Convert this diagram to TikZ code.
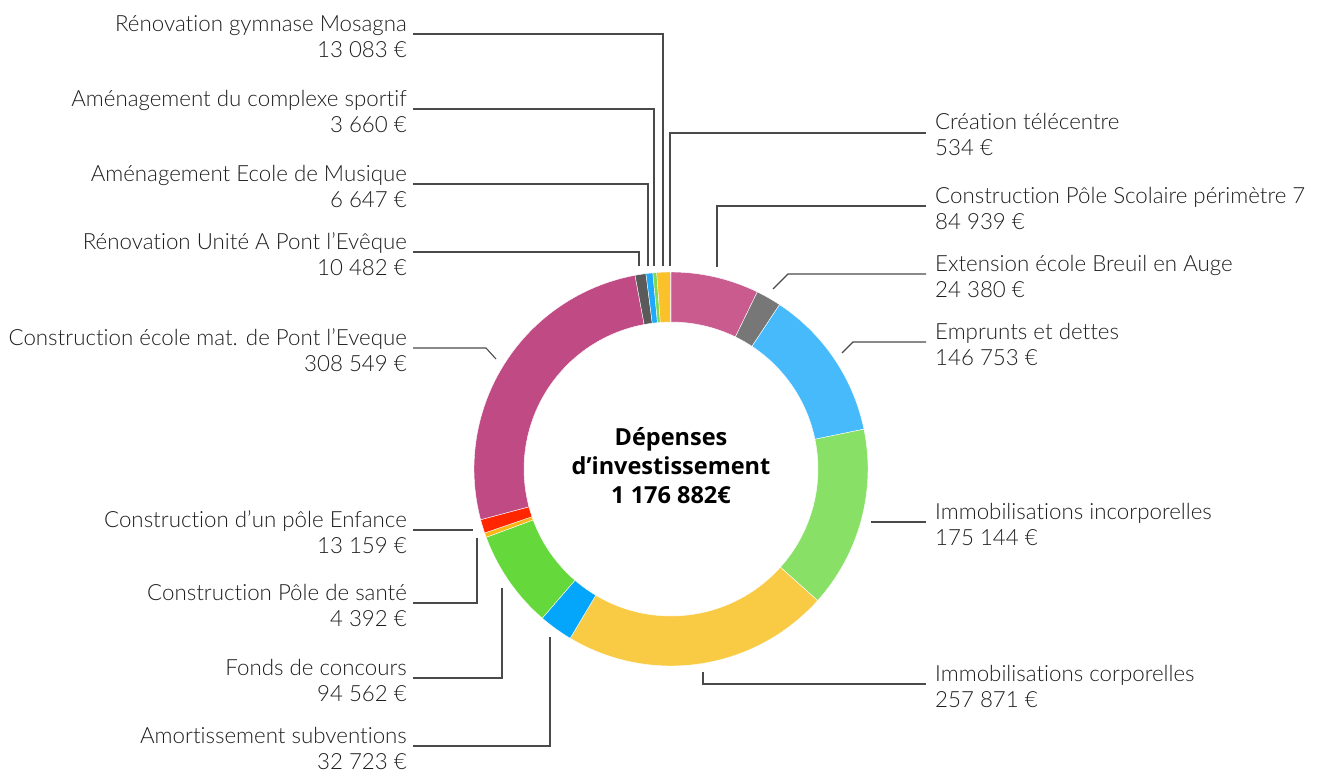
\documentclass[tikz,border=0pt]{standalone}
\usepackage{fontspec}
\setmainfont{Lato Light}[Ligatures=NoCommon]
\newfontfamily\centerfont{Open Sans Bold}
\definecolor{cScol}{HTML}{C95B8F}
\definecolor{cExt}{HTML}{777777}
\definecolor{cEmpr}{HTML}{47BAFC}
\definecolor{cIncorp}{HTML}{88E066}
\definecolor{cCorp}{HTML}{F9CB45}
\definecolor{cAmort}{HTML}{03A6FB}
\definecolor{cFonds}{HTML}{65D93C}
\definecolor{cSante}{HTML}{F9B717}
\definecolor{cEnfance}{HTML}{FF2600}
\definecolor{cEcole}{HTML}{C04A84}
\definecolor{cUnite}{HTML}{5A5A5A}
\definecolor{cMusique}{HTML}{1EA9FB}
\definecolor{cSportif}{HTML}{7CD956}
\definecolor{cMosagna}{HTML}{FBC12B}
\definecolor{cTele}{HTML}{E57AA8}
\definecolor{cLine}{HTML}{4A4A4A}
\definecolor{cText}{HTML}{1E1E1E}
\tikzset{
  lbl/.style={inner sep=0pt, text=cText, font=\fontsize{22.3}{26}\selectfont},
  lbll/.style={lbl, anchor=base east},
  lblr/.style={lbl, anchor=base west},
  ctr/.style={inner sep=0pt, anchor=base, text=black, font=\centerfont\fontsize{23.5}{29}\selectfont},
  conn/.style={draw=cLine, line width=1.1pt},
  seg/.style={draw=white, line width=0.4pt}
}
\newcommand\ringslice[3]{%
  \path[seg, fill=#3] ({#1-90}:197) arc[start angle={#1-90}, end angle={#2-90}, radius=197]
    -- ({#2-90}:147) arc[start angle={#2-90}, end angle={#1-90}, radius=147] -- cycle;}
\newcommand\leftlabel[4]{%
  \node[lbll] (#1T) at (407,#2) {#3};
  \node[lbll] (#1V) at (407,#2+26) {#4};}
\newcommand\rightlabel[4]{%
  \node[lblr] (#1T) at (935,#2) {#3};
  \node[lblr] (#1V) at (935,#2+26) {#4};}
\begin{document}
\begin{tikzpicture}[x=1pt,y=-1pt]
\useasboundingbox (0,0) rectangle (1325,771);
% ring
\begin{scope}[shift={(671,469)}]
\ringslice{0}{25.982}{cScol}
\ringslice{25.982}{33.440}{cExt}
\ringslice{33.440}{78.331}{cEmpr}
\ringslice{78.331}{131.906}{cIncorp}
\ringslice{131.906}{210.787}{cCorp}
\ringslice{210.787}{220.797}{cAmort}
\ringslice{220.797}{249.723}{cFonds}
\ringslice{249.723}{251.066}{cSante}
\ringslice{251.066}{255.092}{cEnfance}
\ringslice{255.092}{349.475}{cEcole}
\ringslice{349.475}{352.681}{cUnite}
\ringslice{352.681}{354.714}{cMusique}
\ringslice{354.714}{355.834}{cSportif}
\ringslice{355.834}{359.836}{cMosagna}
\ringslice{359.836}{360}{cTele}
\end{scope}
% centre text
\node[ctr] (c1) at (671,445) {Dépenses};
\node[ctr] (c2) at (671,474) {d’investissement};
\node[ctr] (c3) at (671,503) {1 176 882€};
% left labels
\leftlabel{mos}{31}{Rénovation gymnase Mosagna}{13 083 €}
\leftlabel{spo}{106}{Aménagement du complexe sportif}{3 660 €}
\leftlabel{mus}{181}{Aménagement Ecole de Musique}{6 647 €}
\leftlabel{uni}{249}{Rénovation Unité A Pont l’Evêque}{10 482 €}
\leftlabel{eco}{345}{Construction école mat. de Pont l'Eveque}{308 549 €}
\leftlabel{enf}{527}{Construction d’un pôle Enfance}{13 159 €}
\leftlabel{san}{600}{Construction Pôle de santé}{4 392 €}
\leftlabel{fon}{675}{Fonds de concours}{94 562 €}
\leftlabel{amo}{743}{Amortissement subventions}{32 723 €}
% right labels
\rightlabel{tel}{129}{Création télécentre}{534 €}
\rightlabel{sco}{203}{Construction Pôle Scolaire périmètre 7}{84 939 €}
\rightlabel{ext}{271}{Extension école Breuil en Auge}{24 380 €}
\rightlabel{emp}{339}{Emprunts et dettes}{146 753 €}
\rightlabel{inc}{519}{Immobilisations incorporelles}{175 144 €}
\rightlabel{cor}{681}{Immobilisations corporelles}{257 871 €}
% connector end points
\coordinate (mosA) at (413,34);  \coordinate (mosB) at (663,266);
\coordinate (spoA) at (413,109); \coordinate (spoB) at (654,266);
\coordinate (musA) at (413,184); \coordinate (musB) at (648,266);
\coordinate (uniA) at (413,252); \coordinate (uniB) at (639,266);
\coordinate (ecoA) at (413,348); \coordinate (ecoK) at (486,348); \coordinate (ecoB) at (496,359);
\coordinate (enfA) at (413,530); \coordinate (enfB) at (473,530);
\coordinate (sanA) at (413,603); \coordinate (sanB) at (477,538);
\coordinate (fonA) at (413,678); \coordinate (fonB) at (502,588);
\coordinate (amoA) at (413,746); \coordinate (amoB) at (550,637);
\coordinate (telA) at (926,133); \coordinate (telB) at (670,266);
\coordinate (scoA) at (926,206); \coordinate (scoB) at (717,267);
\coordinate (extA) at (926,274); \coordinate (extK) at (788,274); \coordinate (extB) at (773,289);
\coordinate (empA) at (926,342); \coordinate (empK) at (853,342); \coordinate (empB) at (842,353);
\coordinate (incA) at (926,522); \coordinate (incB) at (871,522);
\coordinate (corA) at (926,684); \coordinate (corB) at (703,672);
% connectors
\draw[conn] (mosA) -| (mosB);
\draw[conn] (spoA) -| (spoB);
\draw[conn] (musA) -| (musB);
\draw[conn] (uniA) -| (uniB);
\draw[conn] (ecoA) -- (ecoK) -- (ecoB);
\draw[conn] (enfA) -- (enfB);
\draw[conn] (sanA) -| (sanB);
\draw[conn] (fonA) -| (fonB);
\draw[conn] (amoA) -| (amoB);
\draw[conn] (telA) -| (telB);
\draw[conn] (scoA) -| (scoB);
\draw[conn] (extA) -- (extK) -- (extB);
\draw[conn] (empA) -- (empK) -- (empB);
\draw[conn] (incA) -- (incB);
\draw[conn] (corA) -| (corB);
\end{tikzpicture}
\end{document}
